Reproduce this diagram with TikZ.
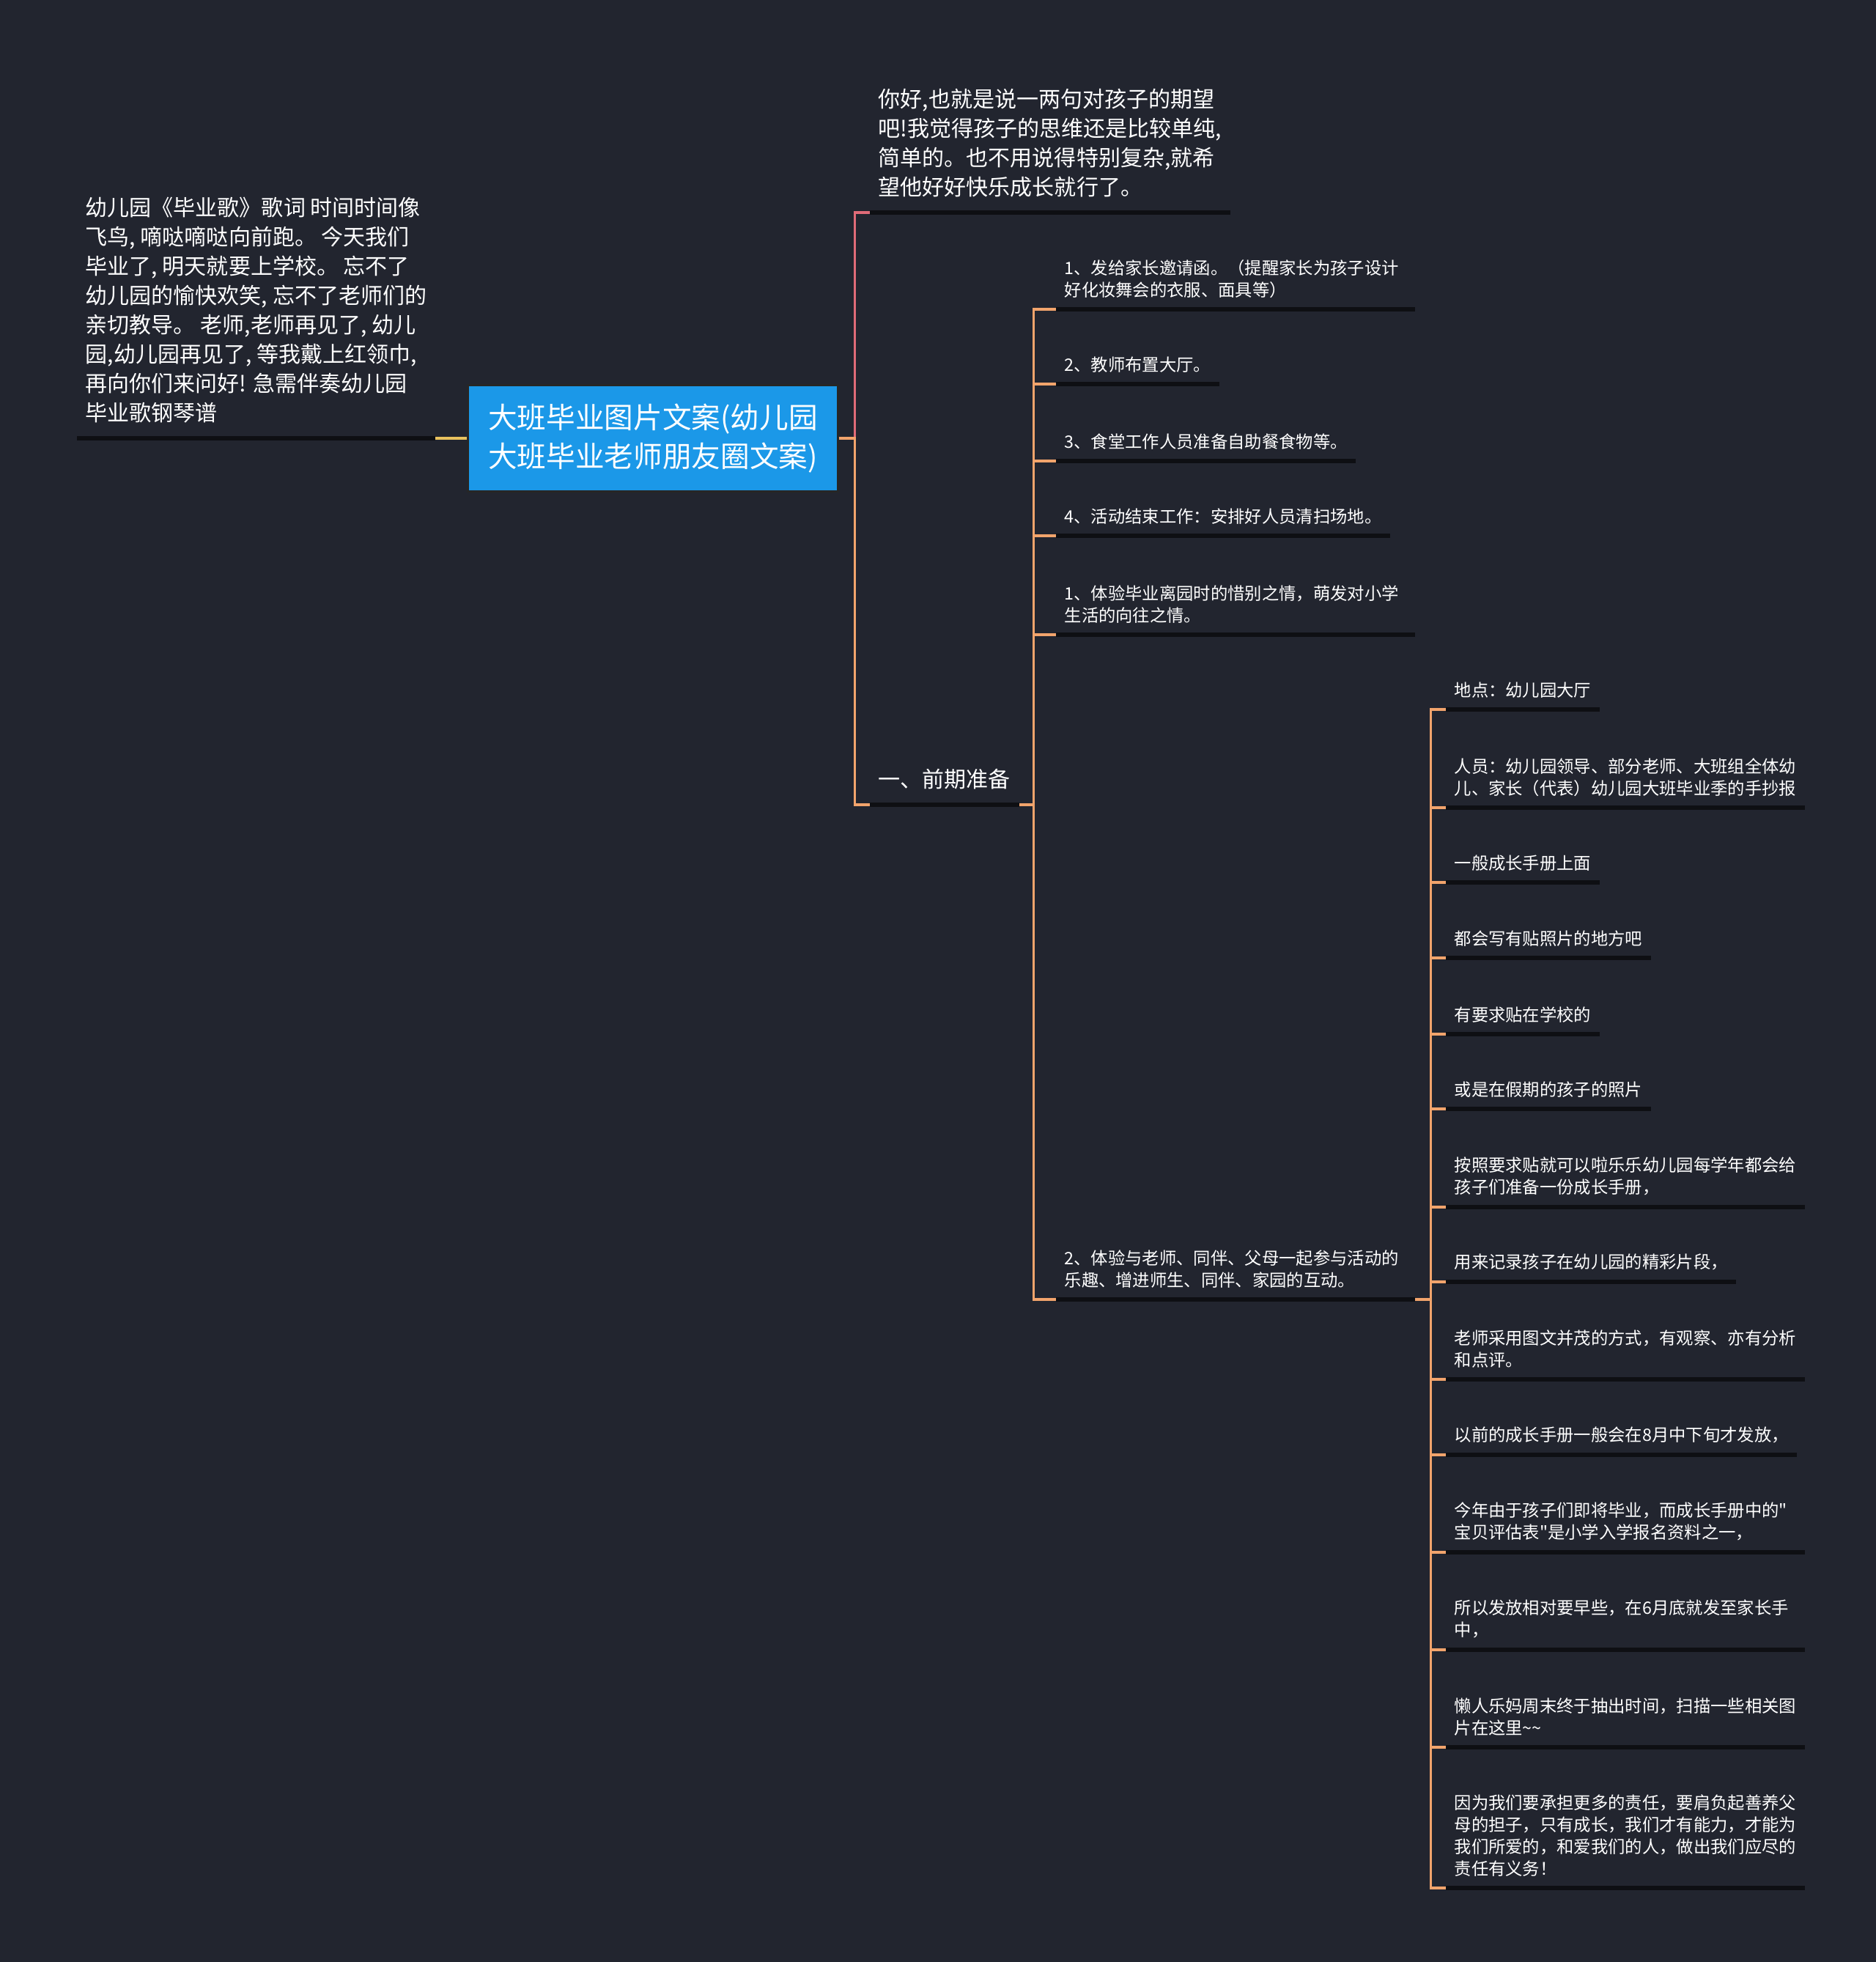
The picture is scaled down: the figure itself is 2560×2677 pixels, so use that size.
\documentclass[tikz,border=0pt]{standalone}
\usepackage{fontspec}
\newfontfamily\cjkfont{Noto Sans CJK SC}
\usepackage{xcolor}
\usepackage{tikz}

\definecolor{bgnavy}{HTML}{22252F}
\definecolor{rootblue}{HTML}{1B98E8}
\definecolor{lineorange}{HTML}{F2A46C}
\definecolor{linepink}{HTML}{E06B78}
\definecolor{lineyellow}{HTML}{E9C25E}
\definecolor{ulinedark}{HTML}{0E0F13}

\tikzset{
  rootbox/.style={draw=black!85, fill=rootblue, text=white, align=left, line width=.8pt,
    minimum width=5.04cm, minimum height=1.45cm, inner sep=0pt,
    font=\cjkfont\fontsize{11.27pt}{15.08pt}\selectfont},
  topic/.style={text=white, align=left, inner xsep=.11cm, inner ysep=.2cm, anchor=south west,
    font=\cjkfont\fontsize{8.54pt}{11.38pt}\selectfont},
  leaf/.style={text=white, align=left, inner xsep=.11cm, inner ysep=.15cm, anchor=south west,
    font=\cjkfont\fontsize{6.63pt}{8.54pt}\selectfont},
  wide/.style={text width=4.66cm},
  uline/.style={ulinedark, line width=1.5pt, line cap=butt},
  link/.style={line width=.9pt, line cap=butt, line join=miter},
}

\begin{document}
\begin{tikzpicture}[x=.01cm, y=-.01cm]
  % Canvas.
  \fill[bgnavy] (0,0) rectangle (2560,2677);
  \useasboundingbox (0,0) rectangle (2560,2677);

  % Central topic.
  \node[rootbox] (root) at (891,598) {大班毕业图片文案(幼儿园\\大班毕业老师朋友圈文案)};

  % First level.
  \node[topic, anchor=south east] (lyric) at (594,598) {幼儿园《毕业歌》歌词 时间时间像\\
    飞鸟, 嘀哒嘀哒向前跑。 今天我们\\毕业了, 明天就要上学校。 忘不了\\
    幼儿园的愉快欢笑, 忘不了老师们的\\亲切教导。 老师,老师再见了, 幼儿\\
    园,幼儿园再见了, 等我戴上红领巾,\\再向你们来问好! 急需伴奏幼儿园\\毕业歌钢琴谱};
  \node[topic] (hello) at (1187,290) {你好,也就是说一两句对孩子的期望\\
    吧!我觉得孩子的思维还是比较单纯,\\简单的。也不用说得特别复杂,就希\\望他好好快乐成长就行了。};
  \node[topic] (prep) at (1187,1098) {一、前期准备};

  % Preparation items.
  \node[leaf, wide] (p1) at (1441,422) {1、发给家长邀请函。（提醒家长为孩子设计\\好化妆舞会的衣服、面具等）};
  \node[leaf] (p2) at (1441,524) {2、教师布置大厅。};
  \node[leaf] (p3) at (1441,629) {3、食堂工作人员准备自助餐食物等。};
  \node[leaf] (p4) at (1441,731) {4、活动结束工作：安排好人员清扫场地。};
  \node[leaf, wide] (p5) at (1441,866) {1、体验毕业离园时的惜别之情，萌发对小学\\生活的向往之情。};
  \node[leaf, wide] (p6) at (1441,1773) {2、体验与老师、同伴、父母一起参与活动的\\乐趣、增进师生、同伴、家园的互动。};

  % Details under item 2.
  \node[leaf] (d1) at (1973,968) {地点：幼儿园大厅};
  \node[leaf, wide] (d2) at (1973,1102) {人员：幼儿园领导、部分老师、大班组全体幼\\儿、家长（代表）幼儿园大班毕业季的手抄报};
  \node[leaf] (d3) at (1973,1204) {一般成长手册上面};
  \node[leaf] (d4) at (1973,1307) {都会写有贴照片的地方吧};
  \node[leaf] (d5) at (1973,1411) {有要求贴在学校的};
  \node[leaf] (d6) at (1973,1513) {或是在假期的孩子的照片};
  \node[leaf, wide] (d7) at (1973,1647) {按照要求贴就可以啦乐乐幼儿园每学年都会给\\孩子们准备一份成长手册，};
  \node[leaf] (d8) at (1973,1749) {用来记录孩子在幼儿园的精彩片段，};
  \node[leaf, wide] (d9) at (1973,1882) {老师采用图文并茂的方式，有观察、亦有分析\\和点评。};
  \node[leaf] (d10) at (1973,1985) {以前的成长手册一般会在8月中下旬才发放，};
  \node[leaf, wide] (d11) at (1973,2118) {今年由于孩子们即将毕业，而成长手册中的"\\宝贝评估表"是小学入学报名资料之一，};
  \node[leaf, wide] (d12) at (1973,2251) {所以发放相对要早些，在6月底就发至家长手\\中，};
  \node[leaf, wide] (d13) at (1973,2384) {懒人乐妈周末终于抽出时间，扫描一些相关图\\片在这里\textasciitilde\textasciitilde};
  \node[leaf, wide] (d14) at (1973,2576) {因为我们要承担更多的责任，要肩负起善养父\\母的担子，只有成长，我们才有能力，才能为\\
    我们所爱的，和爱我们的人，做出我们应尽的\\责任有义务！};

  % Connectors.
  \draw[link, lineyellow] (root.west) -- (lyric.south east);
  \draw[link, linepink] (root.east) -- ++(22,0) |- (hello.south west);
  \draw[link, lineorange] (root.east) -- ++(22,0) |- (prep.south west);
  \foreach \n in {p1,p2,p3,p4,p5,p6}
    \draw[link, lineorange] (prep.south east) -- ++(20,0) |- (\n.south west);
  \foreach \n in {d1,d2,d3,d4,d5,d6,d7,d8,d9,d10,d11,d12,d13,d14}
    \draw[link, lineorange] (p6.south east) -- ++(22,0) |- (\n.south west);

  % Underlines.
  \foreach \n in {lyric,hello,prep,p1,p2,p3,p4,p5,p6,d1,d2,d3,d4,d5,d6,d7,d8,d9,d10,d11,d12,d13,d14}
    \draw[uline] (\n.south west) -- (\n.south east);
\end{tikzpicture}
\end{document}
